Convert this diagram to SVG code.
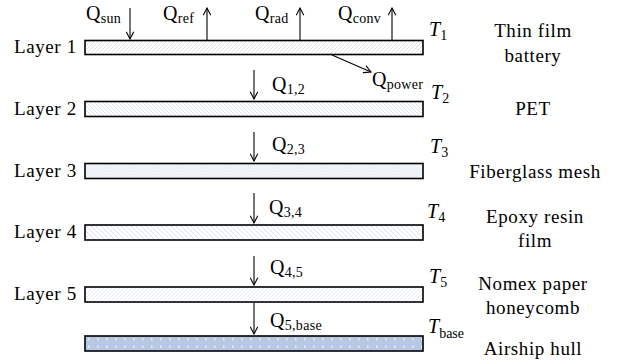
<svg xmlns="http://www.w3.org/2000/svg" width="621" height="364" viewBox="0 0 621 364" font-family="'Liberation Serif', 'Times New Roman', Times, serif">
  <style>
    text { fill: #000; }
    .lbl { font-size: 19px; letter-spacing: 0.6px; }
    .q { font-size: 20px; letter-spacing: 0.3px; }
    .sub { font-size: 14px; font-style: normal; }
    .t { font-size: 20px; font-style: italic; }
    .mat { font-size: 19px; letter-spacing: 0.6px; text-anchor: middle; }
    .bar { stroke: #000; stroke-width: 1.6; }
    .flow { stroke: #000; stroke-width: 1.1; fill: none; marker-end: url(#vhead); }
  </style>
  <defs>
    <marker id="vhead" viewBox="0 0 10 10" refX="9" refY="5" markerWidth="9" markerHeight="9" markerUnits="userSpaceOnUse" orient="auto">
      <path d="M1,0.8 L9,5 L1,9.2" fill="none" stroke="#000" stroke-width="1.2"/>
    </marker>
    <pattern id="hatchGray" width="4" height="4" patternUnits="userSpaceOnUse">
      <rect width="4" height="4" fill="#fff"/>
      <path d="M-1,5 L5,-1 M-1,1 L1,-1 M3,5 L5,3" stroke="#d4d4d4" stroke-width="0.6"/>
    </pattern>
    <pattern id="hatchBack" width="4" height="4" patternUnits="userSpaceOnUse">
      <rect width="4" height="4" fill="#fff"/>
      <path d="M-1,-1 L5,5 M3,-1 L5,1 M-1,3 L1,5" stroke="#cbd7e8" stroke-width="0.7"/>
    </pattern>
    <pattern id="hatchCross" width="3" height="3" patternUnits="userSpaceOnUse">
      <rect width="3" height="3" fill="#f6f8fb"/>
      <path d="M0,0 L3,3 M3,0 L0,3" stroke="#dfe5ef" stroke-width="0.5"/>
    </pattern>
    <pattern id="hatchBackWide" width="5" height="5" patternUnits="userSpaceOnUse">
      <rect width="5" height="5" fill="#fff"/>
      <path d="M-1,-1 L6,6 M4,-1 L6,1 M-1,4 L1,6" stroke="#cfdaea" stroke-width="0.8"/>
    </pattern>
    <pattern id="hatchFwd" width="4" height="4" patternUnits="userSpaceOnUse">
      <rect width="4" height="4" fill="#fff"/>
      <path d="M-1,5 L5,-1 M-1,1 L1,-1 M3,5 L5,3" stroke="#d8e0ee" stroke-width="0.6"/>
    </pattern>
    <pattern id="dots" x="85" y="336" width="9" height="7.5" patternUnits="userSpaceOnUse">
      <rect width="9" height="7.5" fill="#b7c8e2"/>
      <rect x="3" y="2.5" width="1.5" height="1.5" fill="#fff"/>
    </pattern>
  </defs>

  <!-- layers -->
  <g id="layer1">
    <rect class="bar" x="85" y="40.5" width="338" height="14" fill="url(#hatchGray)"/>
    <text class="lbl" x="14" y="53">Layer 1</text>
    <text class="t" x="429" y="36">T<tspan class="sub" dy="4">1</tspan></text>
    <text class="mat" x="533" y="37">Thin film</text>
    <text class="mat" x="533" y="62">battery</text>
  </g>
  <g id="layer2">
    <rect class="bar" x="85" y="101.5" width="338" height="15" fill="url(#hatchBack)"/>
    <text class="lbl" x="14" y="115">Layer 2</text>
    <text class="t" x="431" y="99">T<tspan class="sub" dy="4">2</tspan></text>
    <text class="mat" x="533" y="115">PET</text>
  </g>
  <g id="layer3">
    <rect class="bar" x="85" y="163.5" width="338" height="15" fill="url(#hatchCross)"/>
    <text class="lbl" x="14" y="177">Layer 3</text>
    <text class="t" x="430" y="153">T<tspan class="sub" dy="4">3</tspan></text>
    <text class="mat" x="535" y="178">Fiberglass mesh</text>
  </g>
  <g id="layer4">
    <rect class="bar" x="85" y="225" width="338" height="15" fill="url(#hatchBackWide)"/>
    <text class="lbl" x="14" y="238">Layer 4</text>
    <text class="t" x="427" y="218">T<tspan class="sub" dy="4">4</tspan></text>
    <text class="mat" x="535" y="223">Epoxy resin</text>
    <text class="mat" x="535" y="247">film</text>
  </g>
  <g id="layer5">
    <rect class="bar" x="85" y="287" width="338" height="15" fill="url(#hatchFwd)"/>
    <text class="lbl" x="14" y="300">Layer 5</text>
    <text class="t" x="429" y="283">T<tspan class="sub" dy="4">5</tspan></text>
    <text class="mat" x="533" y="290">Nomex paper</text>
    <text class="mat" x="533" y="314">honeycomb</text>
  </g>
  <g id="hull">
    <rect class="bar" x="85" y="336" width="338" height="15" fill="url(#dots)"/>
    <text class="t" x="428" y="333">T<tspan class="sub" dy="5">base</tspan></text>
    <text class="mat" x="533" y="355">Airship hull</text>
  </g>

  <!-- heat flows -->
  <g id="connectors">
    <line class="flow" x1="130" y1="8" x2="130" y2="39"/>
    <line class="flow" x1="207" y1="40" x2="207" y2="8"/>
    <line class="flow" x1="300" y1="40" x2="300" y2="8"/>
    <line class="flow" x1="392" y1="40" x2="392" y2="8"/>
    <line class="flow" x1="332" y1="55" x2="371" y2="72"/>
    <line class="flow" x1="254" y1="70" x2="254" y2="99"/>
    <line class="flow" x1="254" y1="132" x2="254" y2="161"/>
    <line class="flow" x1="254" y1="193" x2="254" y2="223"/>
    <line class="flow" x1="254" y1="256" x2="254" y2="285"/>
    <line class="flow" x1="254" y1="303" x2="254" y2="334"/>
  </g>

  <!-- flow labels -->
  <g id="flow-labels">
    <text class="q" x="86" y="20">Q<tspan class="sub" dy="3">sun</tspan></text>
    <text class="q" x="163" y="20">Q<tspan class="sub" dy="3">ref</tspan></text>
    <text class="q" x="255" y="20">Q<tspan class="sub" dy="3">rad</tspan></text>
    <text class="q" x="338" y="20">Q<tspan class="sub" dy="3">conv</tspan></text>
    <text class="q" x="372" y="86">Q<tspan class="sub" dy="3">power</tspan></text>
    <text class="q" x="272" y="91">Q<tspan class="sub" dy="3">1,2</tspan></text>
    <text class="q" x="272" y="151">Q<tspan class="sub" dy="3">2,3</tspan></text>
    <text class="q" x="269" y="214">Q<tspan class="sub" dy="3">3,4</tspan></text>
    <text class="q" x="270" y="274">Q<tspan class="sub" dy="3">4,5</tspan></text>
    <text class="q" x="270" y="327">Q<tspan class="sub" dy="3">5,base</tspan></text>
  </g>
</svg>
